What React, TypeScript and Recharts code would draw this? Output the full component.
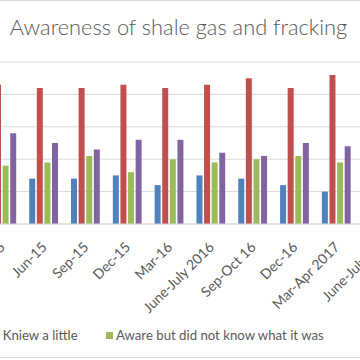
import React from 'react';
import { BarChart, Bar, XAxis, YAxis, CartesianGrid } from 'recharts';

const categories = ['Mar-15', 'Jun-15', 'Sep-15', 'Dec-15', 'Mar-16', 'June-July 2016', 'Sep-Oct 16', 'Dec-16', 'Mar-Apr 2017', 'June-July 17'];
// last category's bars fall outside the visible crop
const knewALot = [11, 14, 14, 15, 12, 15, 14, 12, 10, null];
const knewALittle = [43, 42, 42, 43, 42, 43, 45, 42, 46, null];
const awareNotKnow = [18, 19, 21, 16, 20, 19, 20, 21, 19, null];
const neverHeard = [28, 25, 23, 26, 26, 22, 21, 25, 24, null];
const yTicks = [0, 5, 10, 15, 20, 25, 30, 35, 40, 45, 50];

const seriesNames = ['Knew a lot', 'Kniew a little', 'Aware but did not know what it was', 'Never heard of it'];
const seriesColors = ['#4F81BD', '#C0504D', '#9BBB59', '#8064A2'];
const seriesKeys = ['lot', 'little', 'aware', 'never'];

const data = categories.map((c, i) => ({
  name: c,
  lot: knewALot[i],
  little: knewALittle[i],
  aware: awareNotKnow[i],
  never: neverHeard[i],
}));

const FONT = 'Lato, Calibri, Carlito, sans-serif';
const TEXT = '#595959';

const Tick = (props: any) => {
  const { x, payload } = props;
  const px = x + 4;
  const py = 248;
  return (
    <text x={px} y={py} transform={`rotate(-45 ${px} ${py})`} textAnchor="end" fill={TEXT} fontSize={14} fontFamily={FONT}>
      {payload.value}
    </text>
  );
};

export default function App() {
  return (
    <div style={{ position: 'absolute', left: 0, top: 0, width: 360, height: 360, overflow: 'hidden', background: '#fff' }}>
      <div style={{ position: 'absolute', left: -30, top: 0, width: 430, height: 358, boxSizing: 'border-box', border: '1px solid #D9D9D9' }} />
      <div style={{ position: 'absolute', left: -18.9, top: 0 }}>
        <BarChart width={418.1} height={324} data={data} margin={{ top: 62, right: 0, left: 0, bottom: 0 }} barCategoryGap={6.4} barGap={1.6}>
          <CartesianGrid vertical={false} stroke="#D9D9D9" />
          <YAxis hide domain={[0, 50]} ticks={yTicks} />
          <XAxis dataKey="name" height={100} interval={0} tickLine={false} axisLine={{ stroke: '#D9D9D9' }} tick={<Tick />} />
          {seriesKeys.map((k, i) => (
            <Bar key={k} dataKey={k} name={seriesNames[i]} fill={seriesColors[i]} isAnimationActive={false} />
          ))}
        </BarChart>
      </div>
      <svg width={360} height={360} style={{ position: 'absolute', left: 0, top: 0, pointerEvents: 'none' }}>
        <text x={178.5} y={35} textAnchor="middle" fill={TEXT} fontSize={21.8} fontWeight={300} fontFamily={FONT}>
          Awareness of shale gas and fracking
        </text>
        <rect x={-9} y={332} width={7} height={7} fill={seriesColors[1]} />
        <text x={2.7} y={340} fill={TEXT} fontSize={13.2} fontFamily={FONT}>{seriesNames[1]}</text>
        <rect x={106} y={332} width={7} height={7} fill={seriesColors[2]} />
        <text x={116} y={340} fill={TEXT} fontSize={13.2} fontFamily={FONT}>{seriesNames[2]}</text>
      </svg>
    </div>
  );
}
